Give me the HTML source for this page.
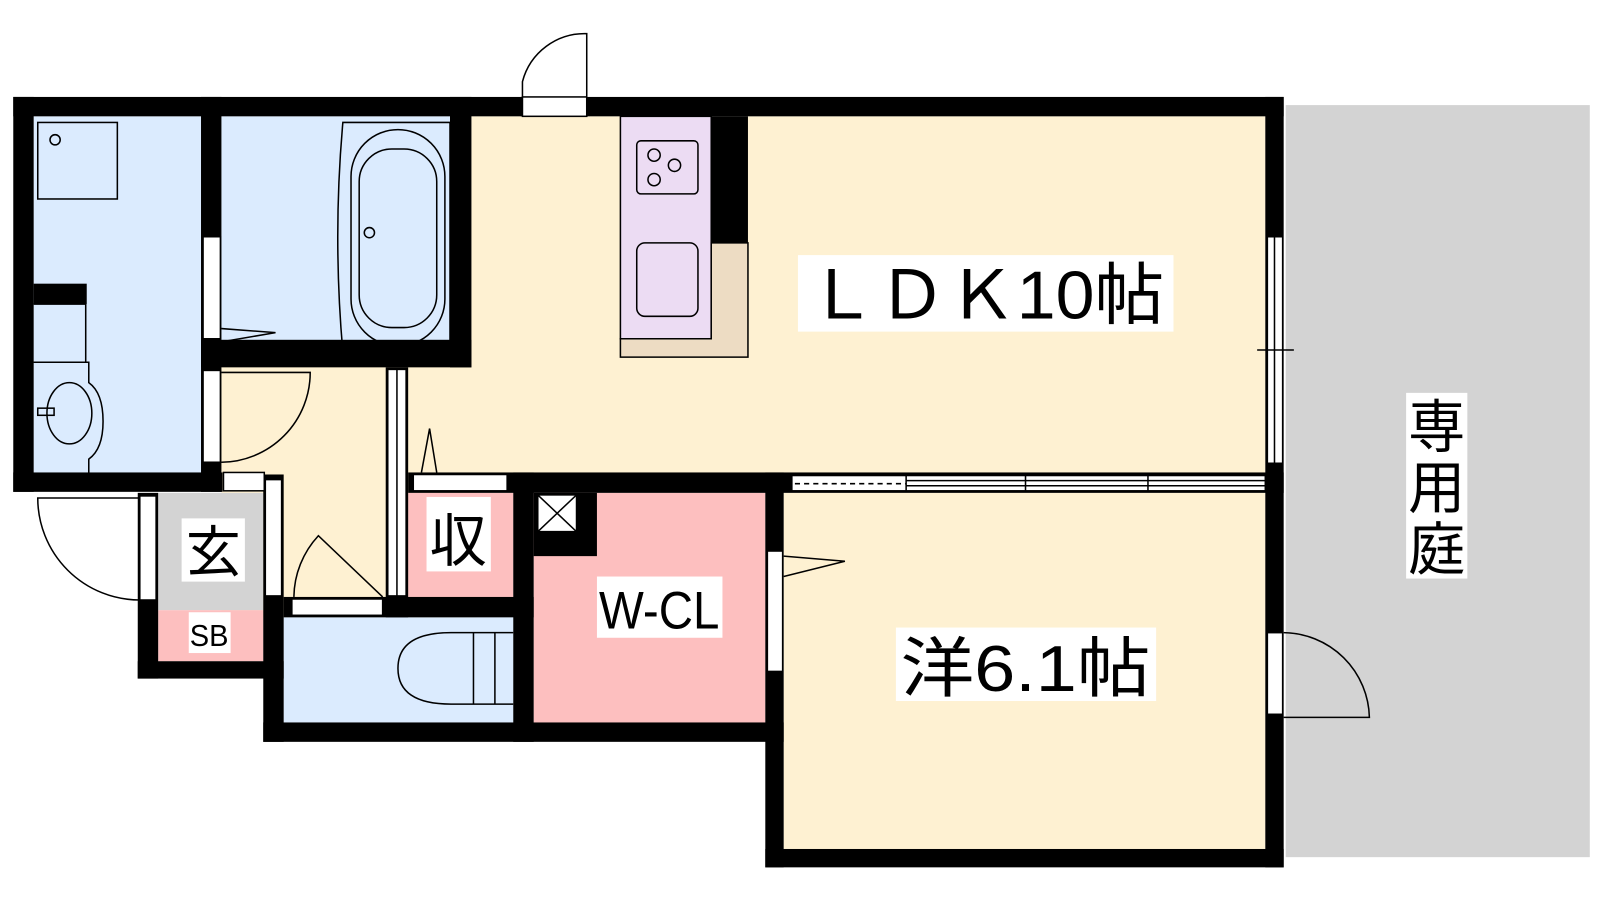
<!DOCTYPE html>
<html><head><meta charset="utf-8"><style>
html,body{margin:0;padding:0;background:#fff;width:1600px;height:900px;overflow:hidden}
svg{display:block}
text{font-family:"Liberation Sans","Noto Sans CJK JP",sans-serif;fill:#000}
</style></head><body>
<svg width="1600" height="900" viewBox="0 0 1568 882" preserveAspectRatio="none" xmlns="http://www.w3.org/2000/svg">
<!-- garden -->
<rect x="1260" y="103" width="298" height="737" fill="#d3d3d3"/>
<!-- floors -->
<rect x="462" y="114" width="778" height="350" fill="#fef1d2"/>
<rect x="217" y="355" width="250" height="250" fill="#fef1d2"/>
<rect x="768" y="483" width="472" height="350" fill="#fef1d2"/>
<rect x="33" y="114" width="164" height="350" fill="#dbebfe"/>
<rect x="217" y="114" width="224" height="220" fill="#dbebfe"/>
<rect x="278" y="605" width="225" height="103" fill="#dbebfe"/>
<rect x="155" y="483" width="103" height="115" fill="#d3d3d3"/>
<rect x="155" y="598" width="103" height="50" fill="#fdbfbf"/>
<rect x="400" y="483" width="103" height="102" fill="#fdbfbf"/>
<rect x="523" y="483" width="227" height="225" fill="#fdbfbf"/>
<!-- walls -->
<g fill="#000">
<rect x="13" y="95" width="1245" height="19"/>
<rect x="13" y="95" width="20" height="387"/>
<rect x="13" y="463" width="205" height="19"/>
<rect x="33" y="278" width="52" height="20"/>
<rect x="197" y="95" width="20" height="387"/>
<rect x="197" y="333" width="265" height="27"/>
<rect x="441" y="95" width="21" height="265"/>
<rect x="697" y="114" width="36" height="124"/>
<rect x="1240" y="95" width="18" height="755"/>
<rect x="400" y="463" width="858" height="20"/>
<rect x="135" y="483" width="20" height="182"/>
<rect x="135" y="648" width="143" height="17"/>
<rect x="258" y="465" width="20" height="262"/>
<rect x="258" y="708" width="510" height="19"/>
<rect x="278" y="585" width="245" height="20"/>
<rect x="503" y="463" width="20" height="264"/>
<rect x="523" y="483" width="62" height="62"/>
<rect x="750" y="463" width="18" height="387"/>
<rect x="750" y="832" width="508" height="18"/>
<rect x="378" y="360" width="22" height="245"/>
</g>
<!-- white openings -->
<g fill="#fff" stroke="#000" stroke-width="1.5">
<rect x="512" y="95" width="63" height="19"/>
<rect x="199" y="232" width="17" height="100"/>
<rect x="199" y="363" width="17" height="90"/>
<rect x="219" y="463" width="40" height="18"/>
<rect x="260" y="470" width="16" height="114"/>
<rect x="137" y="486" width="16" height="102"/>
<rect x="286" y="587" width="89" height="16"/>
<rect x="380" y="362" width="18" height="222"/>
<rect x="405" y="465" width="92" height="16"/>
<rect x="752" y="540" width="15" height="118"/>
<rect x="1242" y="232" width="15" height="222"/>
<rect x="1242" y="620" width="15" height="80"/>
<rect x="776" y="466" width="464" height="15"/>
<rect x="527" y="485" width="38" height="36"/>
</g>
<g stroke="#000" stroke-width="1.5" fill="none">
<line x1="527" y1="485" x2="565" y2="521"/><line x1="565" y1="485" x2="527" y2="521"/>
<line x1="389" y1="362" x2="389" y2="584"/>
<line x1="779" y1="474" x2="888" y2="474" stroke-dasharray="5,4"/>
<line x1="888" y1="466" x2="888" y2="481"/><line x1="1005" y1="466" x2="1005" y2="481"/><line x1="1125" y1="466" x2="1125" y2="481"/>
<line x1="888" y1="471" x2="1240" y2="471"/><line x1="888" y1="476" x2="1240" y2="476"/>
<line x1="1249" y1="232" x2="1249" y2="454"/><line x1="1232" y1="343" x2="1268" y2="343"/>
<path d="M512 95 L512 80 A63 63 0 0 1 575 33 L575 95"/>
<path d="M217 453 A88 88 0 0 0 304 365 L217 365"/>
<path d="M137 588 A100 100 0 0 1 37 488 L137 488"/>
<path d="M288 585 A90 90 0 0 1 312 525 L375 585"/>
<path d="M1258 620 A85 85 0 0 1 1342 703 L1258 703"/>
<path d="M217 322 L270 326 L217 335"/>
<path d="M413 463 L421 420 L428 463"/>
<path d="M768 545 L828 550 L768 565"/>
<rect x="37" y="120" width="78" height="75"/>
<circle cx="54" cy="137" r="5"/>
<path d="M33 298 L84 298 L84 355 L33 355"/>
<path d="M33 355 L87 355 L87 375 Q101 385 101 413 Q101 440 87 450 L87 470 L33 470"/>
<ellipse cx="68" cy="405" rx="22" ry="30"/>
<rect x="37" y="400" width="16" height="7"/>
<path d="M336 120 L441 120 L441 345 L336 345 Q326 232 336 120Z"/>
<rect x="344" y="127" width="92" height="212" rx="46"/>
<rect x="352" y="146" width="76" height="175" rx="32"/>
<circle cx="362" cy="228" r="5"/>
<rect x="608" y="114" width="89" height="218" fill="#ecdcf3"/>
<path d="M608 332 L608 350 L733 350 L733 238 L697 238 L697 332Z" fill="#eddcc3"/>
<rect x="624" y="138" width="60" height="52" rx="4"/>
<circle cx="641" cy="152" r="6"/><circle cx="661" cy="162" r="6"/><circle cx="641" cy="176" r="6"/>
<rect x="624" y="238" width="60" height="72" rx="8"/>
<path d="M503 620 L442 620 Q390 620 390 655 Q390 690 442 690 L503 690"/>
<line x1="464" y1="620" x2="464" y2="690"/><line x1="485" y1="620" x2="485" y2="690"/>
</g>
<!-- labels -->
<rect x="782" y="250" width="368" height="75" fill="#fff"/>
<text x="966" y="312" font-size="66" text-anchor="middle" textLength="350" lengthAdjust="spacingAndGlyphs">ＬＤＫ10帖</text>
<rect x="878" y="615" width="255" height="72" fill="#fff"/>
<text x="1005" y="677" font-size="64" text-anchor="middle" textLength="245" lengthAdjust="spacingAndGlyphs">洋6.1帖</text>
<rect x="1378" y="385" width="60" height="182" fill="#fff"/>
<text x="1408" y="438" font-size="56" text-anchor="middle">専</text>
<text x="1408" y="498" font-size="56" text-anchor="middle">用</text>
<text x="1408" y="558" font-size="56" text-anchor="middle">庭</text>
<rect x="178" y="508" width="62" height="62" fill="#fff"/>
<text x="209" y="560" font-size="54" text-anchor="middle">玄</text>
<rect x="185" y="600" width="41" height="40" fill="#fff"/>
<text x="205" y="633" font-size="30" text-anchor="middle" textLength="38" lengthAdjust="spacingAndGlyphs">SB</text>
<rect x="418" y="487" width="63" height="73" fill="#fff"/>
<text x="449" y="550" font-size="56" text-anchor="middle">収</text>
<rect x="585" y="565" width="123" height="60" fill="#fff"/>
<text x="646" y="616" font-size="52" text-anchor="middle" textLength="118" lengthAdjust="spacingAndGlyphs">W-CL</text>
</svg>
</body></html>
